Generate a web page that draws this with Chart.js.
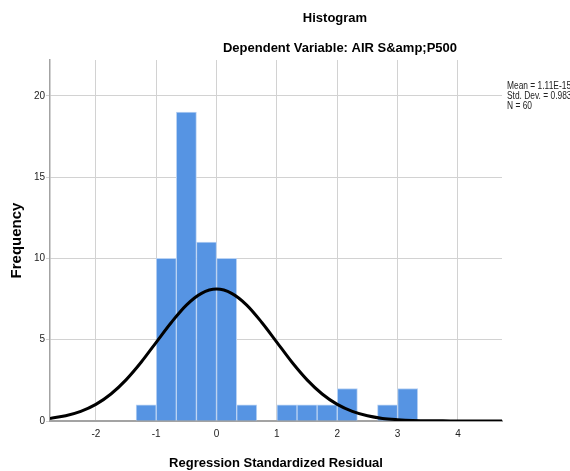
<!DOCTYPE html>
<html>
<head>
<meta charset="utf-8">
<script src="https://cdn.jsdelivr.net/npm/chart.js@4"></script>
<style>
  html, body { margin: 0; padding: 0; background: #fff; }
  #wrap { width: 570px; height: 471px; }
</style>
</head>
<body>
<div id="wrap"><canvas id="histChart"></canvas></div>
<script>
// bin centres (bin width = 1/3) and frequencies
const binCenters = [-1.167, -0.833, -0.5, -0.167, 0.167, 0.5, 0.833, 1.167, 1.5, 1.833, 2.167, 2.5, 2.833, 3.167];
const counts = [1, 10, 19, 11, 10, 1, 0, 1, 1, 1, 2, 0, 1, 2];

// normal curve
const curveX = [-2.76, -2.5, -2.25, -2, -1.75, -1.5, -1.25, -1, -0.75, -0.5, -0.25, 0, 0.25, 0.5, 0.75, 1, 1.25, 1.5, 1.75, 2, 2.25, 2.5, 2.75, 3, 3.25, 3.5, 3.75, 4, 4.25, 4.5, 4.73];
const curveY = [0.16, 0.32, 0.59, 1.02, 1.66, 2.53, 3.61, 4.84, 6.06, 7.13, 7.85, 8.11, 7.85, 7.13, 6.06, 4.84, 3.61, 2.53, 1.66, 1.02, 0.59, 0.32, 0.16, 0.08, 0.03, 0.01, 0.01, 0, 0, 0, 0];

const xTicks = [-2, -1, 0, 1, 2, 3, 4];
const statsLines = ['Mean = 1.11E-15', 'Std. Dev. = 0.983', 'N = 60'];
const titleText = 'Histogram';
const subtitleText = 'Dependent Variable: AIR S&amp;P500';

const FONT = "'Liberation Sans', Arial, sans-serif";

const textPlugin = {
    id: 'spssText',
    afterDraw(chart) {
        const c = chart.ctx;
        c.save();
        c.fillStyle = '#000';
        c.textBaseline = 'middle';
        c.textAlign = 'center';
        c.font = 'bold 13px ' + FONT;
        c.fillText(titleText, 335, 18);
        c.fillText(subtitleText, 340, 48);
        c.restore();

        // condensed stats box text (squeezed horizontally)
        c.save();
        c.fillStyle = '#222';
        c.textBaseline = 'middle';
        c.textAlign = 'left';
        c.font = '10px ' + FONT;
        const x0 = chart.chartArea.right + 5;
        c.translate(x0, 0);
        c.scale(0.84, 1);
        statsLines.forEach(function (line, i) {
            c.fillText(line, 0, 86 + i * 10);
        });
        c.restore();
    }
};

const ctx = document.getElementById('histChart').getContext('2d');
const histChart = new Chart(ctx, {
    type: 'bar',
    data: {
        datasets: [{
            type: 'line',
            data: curveX.map(function (x, i) { return { x: x, y: curveY[i] }; }),
            borderColor: '#000',
            borderWidth: 3,
            pointRadius: 0,
            fill: false,
            cubicInterpolationMode: 'monotone',
            order: 0
        }, {
            type: 'bar',
            data: binCenters.map(function (x, i) { return { x: x, y: counts[i] }; }),
            backgroundColor: '#5694e3',
            borderColor: '#b9d2f3',
            borderWidth: 1,
            barPercentage: 1,
            categoryPercentage: 1,
            order: 1
        }]
    },
    options: {
        responsive: true,
        maintainAspectRatio: false,
        animation: false,
        layout: { padding: { top: 60, right: 68, left: 0, bottom: 0 } },
        plugins: {
            legend: { display: false },
            tooltip: { enabled: false }
        },
        scales: {
            x: {
                type: 'linear',
                offset: false,
                min: -2.76,
                max: 4.73,
                afterFit: function (scale) { scale.height = 50; },
                afterBuildTicks: function (scale) {
                    scale.ticks = xTicks.map(function (v) { return { value: v }; });
                },
                ticks: {
                    includeBounds: false,
                    padding: 7,
                    color: '#222',
                    font: { family: FONT, size: 10 }
                },
                grid: { color: '#d2d2d2', lineWidth: 1, drawTicks: false, offset: false },
                border: { display: true, color: '#a3a3a3', width: 2 },
                title: {
                    display: true,
                    text: 'Regression Standardized Residual',
                    color: '#000',
                    font: { family: FONT, size: 13, weight: 'bold' },
                    padding: { top: 0, bottom: 0 }
                }
            },
            y: {
                min: 0,
                max: 22.2,
                afterFit: function (scale) { scale.width = 50; },
                ticks: {
                    stepSize: 5,
                    includeBounds: false,
                    padding: 1,
                    color: '#222',
                    font: { family: FONT, size: 10 }
                },
                grid: { color: '#d2d2d2', lineWidth: 1, tickLength: 4 },
                border: { display: true, color: '#a3a3a3', width: 1.5 },
                title: {
                    display: true,
                    text: 'Frequency',
                    color: '#000',
                    font: { family: FONT, size: 15, weight: 'bold' },
                    padding: { top: 8, bottom: 0 }
                }
            }
        }
    },
    plugins: [textPlugin]
});
</script>
</body>
</html>
